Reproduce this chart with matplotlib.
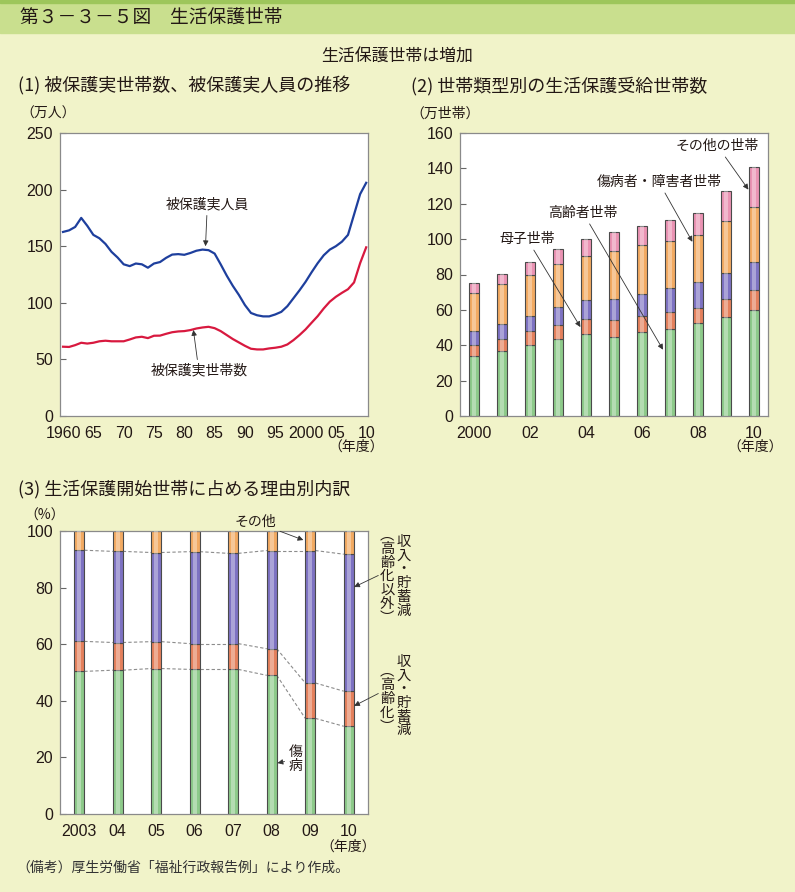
import numpy as np
import matplotlib
matplotlib.use("Agg")
import matplotlib.pyplot as plt
from matplotlib.patches import Rectangle

plt.rcParams['font.family'] = ['Noto Sans CJK JP', 'DejaVu Sans']

W, H = 795, 892

# (1) 被保護実人員・被保護実世帯数（万人・万世帯）
years1 = list(range(1960, 2011))
persons = [162.6, 164, 167, 175, 168, 160, 157, 152, 145, 140,
           134, 132.4, 134.7, 134, 131, 134.7, 136, 139.7, 142.6, 143,
           142.4, 144, 146, 147, 146.5, 143.5, 134, 124, 115, 107,
           98, 91, 89, 88, 88, 89.7, 92, 97, 104, 111,
           118.5, 127, 135, 142, 147, 150, 154, 160, 178, 196, 206]
households = [61.2, 61, 62.6, 64.7, 64, 64.7, 66, 66.5, 66, 66,
              66, 67.6, 69.4, 70, 68.8, 70.9, 71, 72.6, 74, 74.7,
              75, 75.9, 77.3, 78.2, 78.8, 77.6, 75, 71.5, 68, 65,
              62, 59.4, 58.8, 58.8, 59.7, 60.3, 61.2, 63.2, 67, 71.5,
              76.5, 82.4, 88.2, 95, 101, 105.3, 108.8, 112, 118, 135, 149]
xticks1 = [1960, 1965, 1970, 1975, 1980, 1985, 1990, 1995, 2000, 2005, 2010]
xlabels1 = ['1960', '65', '70', '75', '80', '85', '90', '95', '2000', '05', '10']

# (2) 世帯類型別の生活保護受給世帯数（万世帯）
years2 = list(range(2000, 2011))
koreisha = [34.0, 37.0, 40.2, 43.4, 46.6, 44.9, 47.4, 49.4, 52.3, 56.2, 60.2]
boshi = [6.2, 6.6, 7.7, 8.3, 8.5, 9.1, 9.4, 9.5, 9.0, 10.0, 10.9]
shogai = [7.9, 8.5, 8.7, 9.8, 10.4, 12.0, 12.4, 13.4, 14.2, 14.7, 15.9]
shobyo = [21.3, 22.4, 23.0, 24.2, 24.7, 27.2, 27.2, 26.9, 27.1, 29.1, 30.9]
sonota2 = [5.7, 5.9, 7.4, 8.5, 9.8, 10.8, 11.1, 11.4, 12.1, 17.4, 22.7]
xticks2 = [2000, 2002, 2004, 2006, 2008, 2010]
xlabels2 = ['2000', '02', '04', '06', '08', '10']

# (3) 生活保護開始世帯の理由別内訳（％）
labels3 = ['2003', '04', '05', '06', '07', '08', '09', '10']
shobyo3 = [50.4, 50.8, 51.4, 51.1, 51.1, 49.0, 33.8, 31.0]
gen_korei = [10.6, 9.8, 9.5, 9.1, 9.1, 9.4, 12.5, 12.4]
gen_other = [32.2, 32.2, 31.5, 32.5, 31.9, 34.7, 46.8, 48.4]
sonota3 = [6.8, 7.2, 7.6, 7.3, 7.9, 6.9, 6.9, 8.2]

BG = '#f1f3c9'
C_GREEN = '#8dca8a'
C_RED = '#e4805c'
C_PURPLE = '#7d72c2'
C_ORANGE = '#f2aa62'
C_PINK = '#ea93b3'
TXT = '#231815'


def fp(x, y):
    return x / W, 1 - y / H


def style_axes(ax):
    for s in ax.spines.values():
        s.set_color('#8a8a8a')
        s.set_linewidth(0.9)
    ax.tick_params(axis='y', direction='in', length=4, color='#666666',
                   labelsize=11.5, labelcolor=TXT, pad=5)
    ax.tick_params(axis='x', length=0, labelsize=11.5, labelcolor=TXT, pad=7)
    for lbl in ax.get_xticklabels() + ax.get_yticklabels():
        lbl.set_family(['Liberation Sans', 'DejaVu Sans'])


def stack(ax, x, series, colors, width):
    bottom = np.zeros(len(x))
    for vals, col in zip(series, colors):
        vals = np.array(vals)
        ax.bar(x, vals, width, bottom=bottom, color=col, edgecolor='#4a4a4a', lw=0.8, zorder=2)
        ax.bar(x, vals, width * 0.35, bottom=bottom, color='white', alpha=0.35, lw=0, zorder=3)
        bottom = bottom + vals
    return bottom


fig = plt.figure(figsize=(W / 100, H / 100), dpi=100)
fig.patch.set_facecolor(BG)

# header band
fig.patches.append(Rectangle((0, 1 - 33 / H), 1, 33 / H, transform=fig.transFigure,
                             color='#c9df8e', zorder=0))
fig.patches.append(Rectangle((0, 1 - 3 / H), 1, 3 / H, transform=fig.transFigure,
                             color='#9dc65b', zorder=0))
fig.text(*fp(20, 17), '第３－３－５図　生活保護世帯', fontsize=13.5, color=TXT, va='center')
fig.text(*fp(397, 57), '生活保護世帯は増加', fontsize=12.2, color=TXT, ha='center', va='center')
fig.text(*fp(18, 86), '(1) 被保護実世帯数、被保護実人員の推移', fontsize=13, color=TXT, va='center')
fig.text(*fp(411, 86), '(2) 世帯類型別の生活保護受給世帯数', fontsize=13, color=TXT, va='center')
fig.text(*fp(18, 489), '(3) 生活保護開始世帯に占める理由別内訳', fontsize=13, color=TXT, va='center')
fig.text(*fp(20, 114), '（万人）', fontsize=10, color=TXT, va='center')
fig.text(*fp(410, 114), '（万世帯）', fontsize=10, color=TXT, va='center')
fig.text(*fp(24, 516), '（%）', fontsize=10, color=TXT, va='center')
fig.text(*fp(16, 868), '（備考）厚生労働省「福祉行政報告例」により作成。', fontsize=10,
         color='#333333', va='center')

arrow = dict(arrowstyle='-|>', color='#333333', lw=0.6, mutation_scale=8, shrinkA=1, shrinkB=0)

# ---- panel 1
ax1 = fig.add_axes([60 / W, 1 - 416 / H, 308 / W, 283 / H])
ax1.plot(years1, persons, color='#1e3f9d', lw=1.6)
ax1.plot(years1, households, color='#d8193f', lw=1.6)
ax1.set_xlim(1959.5, 2010.3)
ax1.set_ylim(0, 250)
ax1.set_yticks(range(0, 251, 50))
ax1.set_xticks(xticks1)
ax1.set_xticklabels(xlabels1)
style_axes(ax1)
ax1.annotate('被保護実人員', xy=(1983.5, 150), xytext=(1983.8, 187), fontsize=10, color=TXT,
             ha='center', va='center', arrowprops=arrow)
ax1.annotate('被保護実世帯数', xy=(1981.5, 76), xytext=(1982.4, 40), fontsize=10, color=TXT,
             ha='center', va='center', arrowprops=arrow)
fig.text(*fp(356, 447), '（年度）', fontsize=10, color=TXT, ha='center', va='center')

# ---- panel 2
ax2 = fig.add_axes([460 / W, 1 - 416 / H, 308 / W, 283 / H])
stack(ax2, np.array(years2), [koreisha, boshi, shogai, shobyo, sonota2],
      [C_GREEN, C_RED, C_PURPLE, C_ORANGE, C_PINK], 0.37)
ax2.set_xlim(1999.5, 2010.5)
ax2.set_ylim(0, 160)
ax2.set_yticks(range(0, 161, 20))
ax2.set_xticks(xticks2)
ax2.set_xticklabels(xlabels2)
style_axes(ax2)
ax2.annotate('その他の世帯', xy=(2009.8, 128), xytext=(2008.7, 152.6), fontsize=10, color=TXT,
             ha='center', va='center', arrowprops=arrow)
ax2.annotate('傷病者・障害者世帯', xy=(2007.8, 98.5), xytext=(2006.6, 132.3), fontsize=10, color=TXT,
             ha='center', va='center', arrowprops=arrow)
ax2.annotate('高齢者世帯', xy=(2006.75, 37.5), xytext=(2003.9, 114.8), fontsize=10, color=TXT,
             ha='center', va='center', arrowprops=arrow)
ax2.annotate('母子世帯', xy=(2003.8, 50.3), xytext=(2001.9, 100), fontsize=10, color=TXT,
             ha='center', va='center', arrowprops=arrow)
fig.text(*fp(755, 447), '（年度）', fontsize=10, color=TXT, ha='center', va='center')

# ---- panel 3
ax3 = fig.add_axes([60 / W, 1 - 814 / H, 308 / W, 283 / H])
x3 = np.arange(len(labels3))
w3 = 0.26
series3 = [shobyo3, gen_korei, gen_other, sonota3]
stack(ax3, x3, series3, [C_GREEN, C_RED, C_PURPLE, C_ORANGE], w3)
cum = np.cumsum(np.array(series3[:3]), axis=0)
for level in cum:
    for i in range(len(x3) - 1):
        ax3.plot([x3[i] + w3 / 2, x3[i + 1] - w3 / 2], [level[i], level[i + 1]],
                 color='#8c8c8c', lw=0.8, ls=(0, (3, 2)), zorder=1)
ax3.set_xlim(-0.5, 7.5)
ax3.set_ylim(0, 100)
ax3.set_yticks(range(0, 101, 20))
ax3.set_xticks(x3)
ax3.set_xticklabels(labels3)
style_axes(ax3)
ax3.annotate('その他', xy=(5.82, 96.8), xytext=(4.57, 103.2), fontsize=10, color=TXT,
             ha='center', va='center', arrowprops=arrow, annotation_clip=False)
ax3.annotate('傷\n病', xy=(5.15, 18), xytext=(5.62, 19.4), fontsize=10, color=TXT,
             ha='center', va='center', linespacing=1.0, arrowprops=arrow)
vt = dict(fontsize=10.3, color=TXT, ha='center', va='center', linespacing=0.98, clip_on=False)
ax3.text(8.42, 84, '\n'.join('収入・貯蓄減'), **vt)
ax3.text(8.0, 84, '\n'.join('︵高齢化以外︶'), **vt)
ax3.annotate('', xy=(7.14, 80.2), xytext=(7.8, 84.5), arrowprops=arrow, annotation_clip=False)
ax3.text(8.42, 41.7, '\n'.join('収入・貯蓄減'), **vt)
ax3.text(8.0, 40.6, '\n'.join('︵高齢化︶'), **vt)
ax3.annotate('', xy=(7.14, 38.2), xytext=(7.8, 42.8), arrowprops=arrow, annotation_clip=False)
fig.text(*fp(348, 847), '（年度）', fontsize=10, color=TXT, ha='center', va='center')

fig.savefig('out.png', dpi=100, facecolor=BG)
